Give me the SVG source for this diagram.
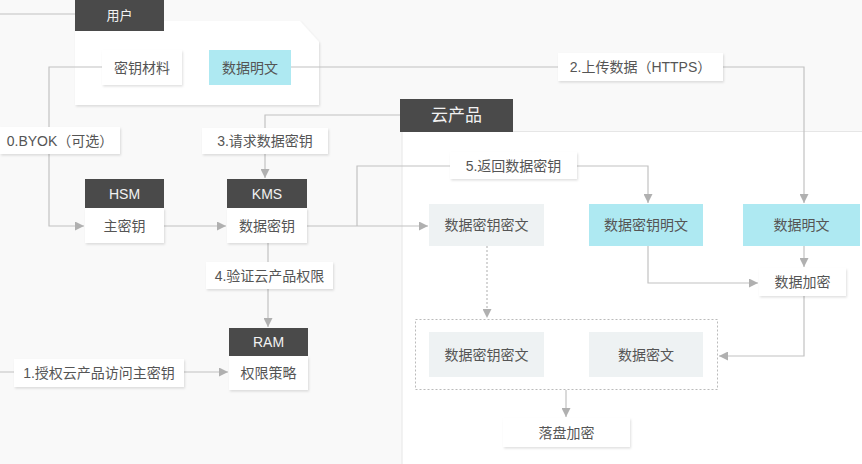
<svg xmlns="http://www.w3.org/2000/svg" width="862" height="464" viewBox="0 0 862 464">
<defs>
<style>
text{font-family:"Liberation Sans","Noto Sans CJK SC",sans-serif;font-size:14px;fill:#555;text-anchor:middle;dominant-baseline:central}
.hd{fill:#4a4a4a}
.hdt{fill:#f2f2f2}
.wb{fill:#fff;filter:url(#sh)}
.cy{fill:#aee9f2}
.gr{fill:#eef2f3}
.ln{fill:none;stroke:#c2c2c2;stroke-width:1.2}
.dt{fill:none;stroke:#bbb;stroke-width:1.2;stroke-dasharray:2 2}
</style>
<filter id="sh" x="-10%" y="-20%" width="125%" height="150%">
<feDropShadow dx="1" dy="1.5" stdDeviation="1.2" flood-color="#000" flood-opacity="0.12"/>
</filter>
<marker id="ar" viewBox="0 0 10 10" refX="10" refY="5" markerWidth="9" markerHeight="9" markerUnits="userSpaceOnUse" orient="auto">
<path d="M0,0L10,5L0,10z" fill="#b0b0b0"/>
</marker>
</defs>
<rect width="862" height="464" fill="#f9f9f9"/>
<g id="cloud-panel">
<rect x="402" y="131" width="460" height="333" fill="#fff"/>
<path d="M402,464V131.5H862" fill="none" stroke="#e6e6e6"/>
</g>
<g id="user-panel">
<path d="M75,21H300L319,42V105H75Z" fill="#fff" filter="url(#sh)"/>
</g>
<g id="connectors">
<path class="ln" d="M0,14H75"/>
<path class="ln" d="M102,67H49V226H84" marker-end="url(#ar)"/>
<path class="ln" d="M291,67H804V203" marker-end="url(#ar)"/>
<path class="ln" d="M400,115H265V178" marker-end="url(#ar)"/>
<path class="ln" d="M164,226H226" marker-end="url(#ar)"/>
<path class="ln" d="M307,226H428" marker-end="url(#ar)"/>
<path class="ln" d="M357,226V166H648V203" marker-end="url(#ar)"/>
<path class="ln" d="M268,243V327" marker-end="url(#ar)"/>
<path class="ln" d="M0,372H228" marker-end="url(#ar)"/>
<path class="ln" d="M804,246V267" marker-end="url(#ar)"/>
<path class="ln" d="M648,246V283H758" marker-end="url(#ar)"/>
<path class="dt" d="M487,246V318" marker-end="url(#ar)"/>
<path class="ln" d="M804,296V356H719" marker-end="url(#ar)"/>
<path class="ln" d="M566,390V417" marker-end="url(#ar)"/>
</g>
<g id="user-header"><rect class="hd" x="75" y="0" width="89" height="31"/><text class="hdt" x="119.5" y="15" style="font-size:13px">用户</text></g>
<g id="key-material"><rect class="wb" x="102" y="50" width="80" height="35"/><text x="142" y="67.5">密钥材料</text></g>
<g id="user-plaintext"><rect class="cy" x="209" y="50" width="82" height="35"/><text x="250" y="67.5">数据明文</text></g>
<g id="label-2"><rect class="wb" x="558" y="53" width="165" height="28"/><text x="640.5" y="67">2.上传数据（HTTPS）</text></g>
<g id="cloud-header"><rect class="hd" x="400" y="99" width="113" height="33"/><text class="hdt" x="456.5" y="115.5" style="font-size:17px">云产品</text></g>
<g id="label-0"><rect class="wb" x="0" y="127" width="120" height="27"/><text x="60" y="140.5">0.BYOK（可选）</text></g>
<g id="label-3"><rect class="wb" x="202" y="128" width="126" height="26"/><text x="265" y="141">3.请求数据密钥</text></g>
<g id="label-5"><rect class="wb" x="450" y="152" width="127" height="27"/><text x="513.5" y="165.5">5.返回数据密钥</text></g>
<g id="hsm"><rect class="hd" x="85" y="179" width="79" height="29"/><text class="hdt" x="124.5" y="193.5">HSM</text><rect class="wb" x="85" y="208" width="79" height="35"/><text x="124.5" y="225.5">主密钥</text></g>
<g id="kms"><rect class="hd" x="227" y="179" width="80" height="29"/><text class="hdt" x="267" y="193.5">KMS</text><rect class="wb" x="227" y="208" width="80" height="35"/><text x="267" y="225.5">数据密钥</text></g>
<g id="label-4"><rect class="wb" x="206" y="262" width="127" height="27"/><text x="269.5" y="275.5">4.验证云产品权限</text></g>
<g id="ram"><rect class="hd" x="229" y="328" width="79" height="28"/><text class="hdt" x="268.5" y="342">RAM</text><rect class="wb" x="229" y="356" width="79" height="34"/><text x="268.5" y="373">权限策略</text></g>
<g id="label-1"><rect class="wb" x="14" y="359" width="170" height="28"/><text x="99" y="373">1.授权云产品访问主密钥</text></g>
<g id="cipher-key"><rect class="gr" x="429" y="204" width="115" height="42"/><text x="486.5" y="225">数据密钥密文</text></g>
<g id="plain-key"><rect class="cy" x="589" y="204" width="114" height="42"/><text x="646" y="225">数据密钥明文</text></g>
<g id="plain-data"><rect class="cy" x="743" y="204" width="117" height="42"/><text x="801.5" y="225">数据明文</text></g>
<g id="encrypt"><rect class="wb" x="759" y="268" width="87" height="28"/><text x="802.5" y="282">数据加密</text></g>
<g id="storage-group">
<rect x="415.5" y="319.5" width="302" height="70" fill="none" stroke="#bbb" stroke-dasharray="2 2"/>
<rect class="gr" x="429" y="332" width="115" height="45"/><text x="486.5" y="354.5">数据密钥密文</text>
<rect class="gr" x="589" y="332" width="114" height="45"/><text x="646" y="354.5">数据密文</text>
</g>
<g id="disk-encrypt"><rect class="wb" x="503" y="418" width="127" height="29"/><text x="566.5" y="432.5">落盘加密</text></g>
</svg>
